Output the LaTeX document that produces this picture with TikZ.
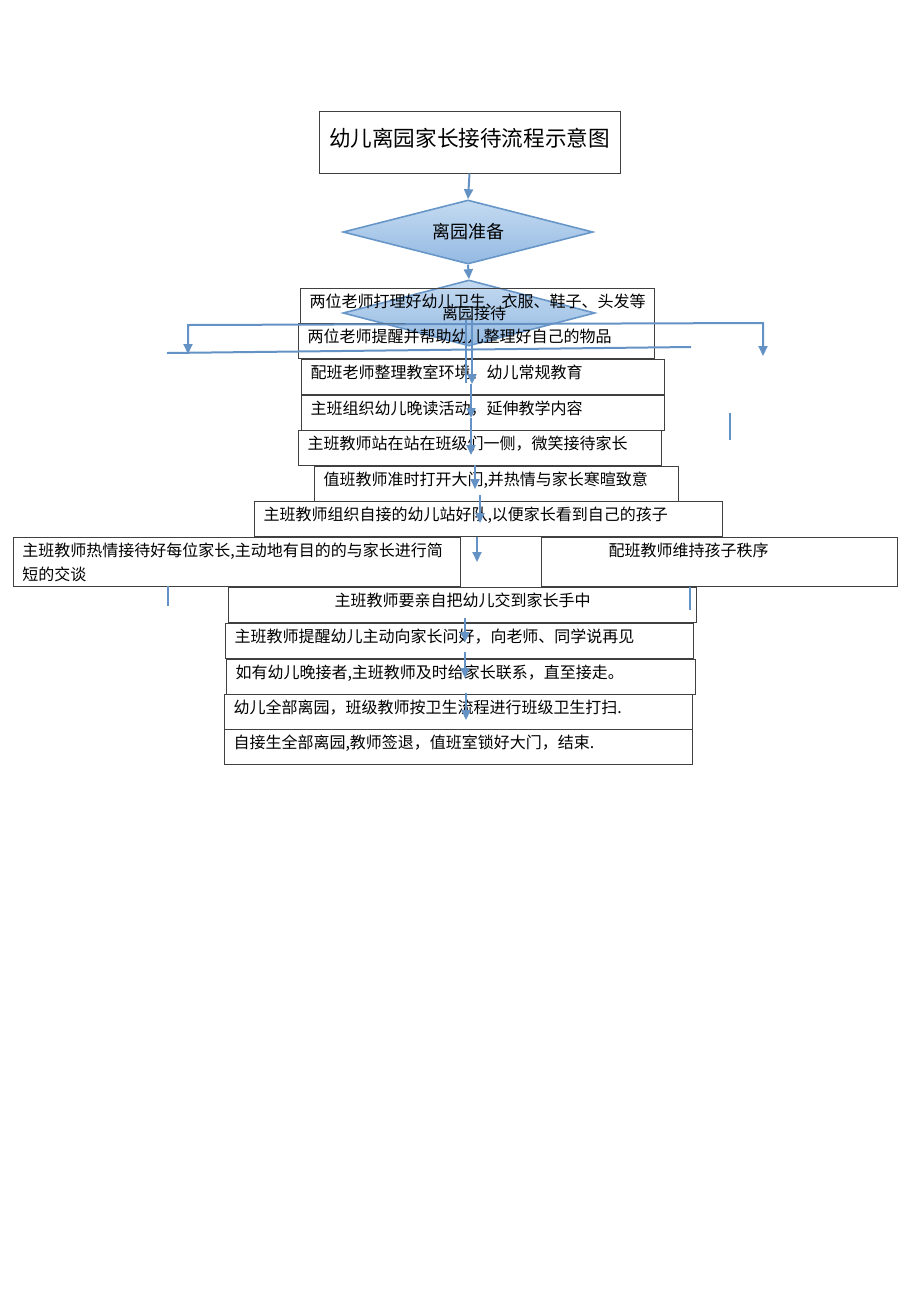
\documentclass[tikz,border=0pt]{standalone}
\usepackage{fontspec}
\setmainfont{Noto Sans CJK SC}
\usepackage{tikz}
\usetikzlibrary{arrows.meta, shapes.geometric}

\definecolor{flowblue}{RGB}{100,146,196}
\definecolor{dmtop}{RGB}{196,218,241}
\definecolor{dmbot}{RGB}{148,186,226}
\definecolor{dmline}{RGB}{104,150,200}

\tikzset{
  stepbox/.style={draw=black!75, line width=0.5pt, anchor=north west,
    inner xsep=4.5pt, inner ysep=0pt, minimum height=17.5pt,
    text height=7pt, text depth=5.5pt, align=left,
    font=\fontsize{8}{12}\selectfont},
  decide/.style={diamond, draw=dmline, line width=0.8pt, top color=dmtop,
    bottom color=dmbot, inner sep=0pt, shape aspect=3.9},
  flow/.style={draw=flowblue, line width=1pt},
}

\begin{document}
\begin{tikzpicture}[x=0.5pt, y=-0.5pt, >={Triangle[length=5pt,width=4.5pt]}]
\useasboundingbox (0,0) rectangle (920,1302);

\node[draw=black!75, line width=0.5pt, minimum width=150.5pt, minimum height=31pt,
      inner sep=0pt, text height=9.5pt, text depth=5pt,
      font=\fontsize{10.8}{13}\selectfont] (title) at (469.5,142) {幼儿离园家长接待流程示意图};

\node[decide, minimum width=125pt, minimum height=32pt, font=\fontsize{9}{11}\selectfont] (prep) at (468,232) {离园准备};
\node[decide, minimum width=126pt, minimum height=33pt, font=\fontsize{8}{10}\selectfont] (recv) at (469,313) {\hspace*{5pt}离园接待};

\begin{scope}[every node/.style={stepbox}]
  \node[minimum width=177pt, text width=168pt] (s1) at (300,288) {两位老师打理好幼儿卫生、衣服、鞋子、头发等};
  \node[minimum width=178pt, text width=169pt] (s2) at (298,323) {两位老师提醒并帮助幼儿整理好自己的物品};
  \node[minimum width=181.5pt, text width=172.5pt] (s3) at (301,359) {配班老师整理教室环境、幼儿常规教育};
  \node[minimum width=181.5pt, text width=172.5pt] (s4) at (301,395) {主班组织幼儿晚读活动，延伸教学内容};
  \node[minimum width=181.5pt, text width=172.5pt] (s5) at (298,430) {主班教师站在站在班级们一侧，微笑接待家长};
  \node[minimum width=182pt, text width=173pt] (s6) at (314,466) {值班教师准时打开大门,并热情与家长寒暄致意};
  \node[minimum width=234pt, text width=225pt] (s7) at (254,501) {主班教师组织自接的幼儿站好队,以便家长看到自己的孩子};
  \node[minimum width=223.5pt, text width=214.5pt, minimum height=24.5pt, text depth=12.5pt] (s8) at (13,537)
    {主班教师热情接待好每位家长,主动地有目的的与家长进行简\\短的交谈};
  \node[minimum width=178pt, text width=169pt, minimum height=24.5pt, text depth=12.5pt] (s9) at (541,537)
    {\hspace*{29pt}配班教师维持孩子秩序};
  \node[minimum width=234pt, text width=225pt, align=center] (s10) at (228,587) {主班教师要亲自把幼儿交到家长手中};
  \node[minimum width=234pt, text width=225pt] (s11) at (225,623) {主班教师提醒幼儿主动向家长问好，向老师、同学说再见};
  \node[minimum width=234.5pt, text width=225.5pt] (s12) at (226,659) {如有幼儿晚接者,主班教师及时给家长联系，直至接走。};
  \node[minimum width=234pt, text width=225pt] (s13) at (224,694) {幼儿全部离园，班级教师按卫生流程进行班级卫生打扫.};
  \node[minimum width=234pt, text width=225pt] (s14) at (224,729) {自接生全部离园,教师签退，值班室锁好大门，结束.};
\end{scope}

% connectors
\draw[flow,->] (title.south) -- (prep.north);
\draw[flow,->] (prep.south) -- (recv.north);

\coordinate (lfoot) at (188,354);
\coordinate (bl) at (188,325);
\coordinate (br) at (763,323);
\coordinate (rfoot) at (763,356);
\draw[flow,<->] (lfoot) -- (bl) -- (br) -- (rfoot);

\coordinate (sl) at (167,353);
\coordinate (sr) at (691,347);
\draw[flow] (sl) -- (sr);

\foreach \n/\x/\ya/\yb in {1/472/320/384, 2/471/384/418, 3/471/418/455, 4/475/465/489,
                         5/480/495/523, 6/477/537/562, 7/465/618/642, 8/465/652/678, 9/466/693/720} {
  \coordinate (t\n) at (\x,\ya);
  \coordinate (h\n) at (\x,\yb);
  \draw[flow,->] (t\n) -- (h\n);
}

\foreach \n/\x/\ya/\yb in {1/466/320/383, 2/730/413/440, 3/168/586/606, 4/690/587/610} {
  \coordinate (u\n) at (\x,\ya);
  \coordinate (v\n) at (\x,\yb);
  \draw[flow] (u\n) -- (v\n);
}
\end{tikzpicture}
\end{document}
